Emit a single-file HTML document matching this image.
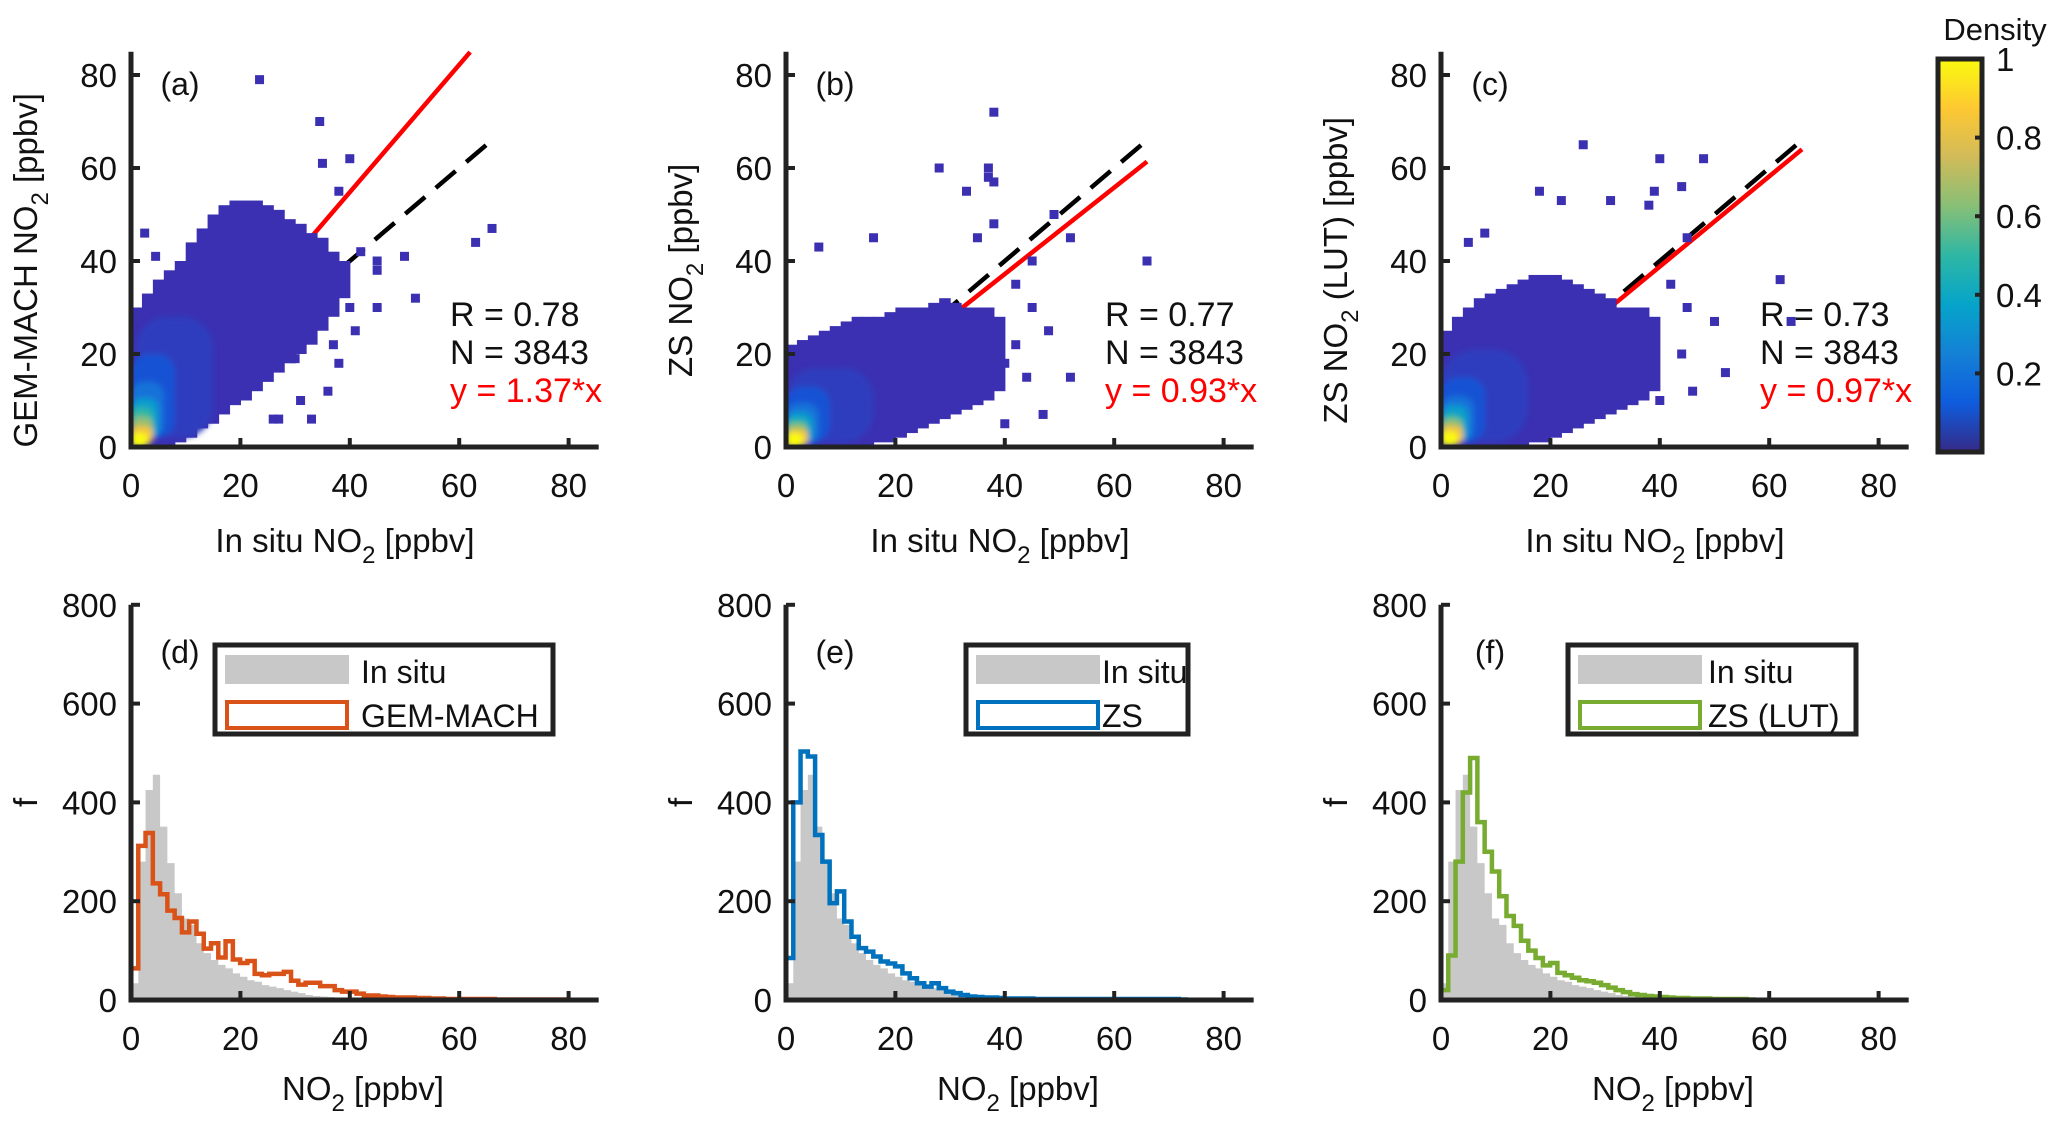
<!DOCTYPE html>
<html><head><meta charset="utf-8">
<style>
html,body{margin:0;padding:0;background:#fff;}
svg{display:block;font-family:"Liberation Sans",Arial,sans-serif;}
</style></head>
<body>
<svg id="fig" width="2067" height="1129" viewBox="0 0 2067 1129" xmlns="http://www.w3.org/2000/svg">
<defs>
<linearGradient id="parula" x1="0" y1="1" x2="0" y2="0">
<stop offset="0" stop-color="#352a87"/><stop offset="0.125" stop-color="#0f5cdd"/>
<stop offset="0.25" stop-color="#1481d6"/><stop offset="0.375" stop-color="#06a4ca"/>
<stop offset="0.5" stop-color="#2eb7a4"/><stop offset="0.625" stop-color="#87bf77"/>
<stop offset="0.75" stop-color="#d1bb59"/><stop offset="0.875" stop-color="#fec832"/>
<stop offset="1" stop-color="#f9fb0e"/></linearGradient>
<filter id="soft" x="-20%" y="-20%" width="140%" height="140%"><feGaussianBlur stdDeviation="3"/></filter>
</defs>
</svg>
<script>
// ---------- data ----------
const scatterTicks = [0,20,40,60,80];
const histYTicks = [0,200,400,600,800];
const panelLetters = ['(a)','(b)','(c)'];
const histLetters = ['(d)','(e)','(f)'];
const rVals = ['0.78','0.77','0.73'];
const nVals = ['3843','3843','3843'];
const slopes = [1.37,0.93,0.97];
const fitEnds = [62,66,66];
const oneToOneEnd = [66,66,66];
// cloud columns: x bin start (width 2), y low, y high
const cloudX = [0,2,4,6,8,10,12,14,16,18,20,22,24,26,28,30,32,34,36,38];
const cloudLoA = [0,0,0,0,1,2,4,5,7,9,10,12,14,16,18,20,22,25,28,32];
const cloudHiA = [30,33,36,38,40,44,47,50,52,53,53,53,52,51,49,48,46,45,42,40];
const cloudLoB = [0,0,0,0,0,0,0,0,1,1,2,3,4,5,6,7,8,9,10,12];
const cloudHiB = [22,23,24,25,26,27,28,28,28,29,30,30,30,31,32,31,30,30,30,28];
const cloudLoC = [0,0,0,0,0,0,0,0,1,1,2,3,4,5,6,7,8,9,10,12];
const cloudHiC = [25,28,30,32,33,34,35,36,37,37,37,36,35,34,33,32,30,30,30,28];
// density core cells: centre x, centre y, width, height, density
const coreXA = [8,4,3,2.5,2,2,2,1.5];
const coreYA = [15,11,8,6,5,4,2.5,1.5];
const coreWA = [14,8,6,5,4,4,4,3];
const coreHA = [26,18,12,9,7,5,4,3];
const coreDA = [0.04,0.1,0.2,0.35,0.5,0.65,0.85,1];
const coreXB = [8,4,3,2.5,2,2,2,1.5];
const coreYB = [9,7,5,4,3.5,3,2,1.5];
const coreWB = [16,8,6,5,4,4,4,3];
const coreHB = [16,12,9,7,5,4,3.5,3];
const coreDB = [0.04,0.1,0.2,0.35,0.5,0.65,0.85,1];
const coreXC = [8,4,3,2.5,2,2,2,1.5];
const coreYC = [11,8,6,5,4,3.5,2.5,1.8];
const coreWC = [16,8,6,5,4,4,4,3];
const coreHC = [20,14,10,8,6,5,4,3];
const coreDC = [0.04,0.1,0.2,0.35,0.5,0.65,0.85,1];
// outliers
const outXA = [23.5,34.5,35,40,2.5,4.5,63,66,50,52,45,38,41,45,45,26,27,33,31,30,38,37,40,36,42];
const outYA = [79,70,61,62,46,41,44,47,41,32,30,18,25,40,38,6,6,6,10,19,55,22,30,12,42];
const outXB = [38,28,37,37,33,38,49,52,45,66,38,35,48,42,44,52,47,40,16,6,42,40,45];
const outYB = [72,60,60,58,55,57,50,45,40,40,48,45,25,22,15,15,7,5,45,43,35,18,30];
const outXC = [26,40,39,48,44,31,38,45,18,22,62,64,50,52,46,40,5,8,42,45,44];
const outYC = [65,62,55,62,56,53,52,45,55,53,36,27,27,16,12,10,44,46,35,30,20];
// histograms (bin width 1.33 ppbv)
const binW = 1.33;
const inSitu = [34,280,425,456,351,277,216,165,152,115,95,81,71,64,54,47,40,37,30,27,24,20,17,14,10,8,7,6,5,4,3,3,2,2,2,1,1];
const gemMach = [64,312,338,236,214,181,166,137,159,134,104,115,86,119,82,75,79,53,50,53,53,57,39,31,35,35,28,28,20,17,17,13,9,9,7,6,5,5,5,4,4,3,3,2,2,2,2,2,2,2,1,1,1,1,1,1,1,1,1,1];
const zs = [85,400,503,493,334,280,196,220,159,128,105,98,88,78,74,68,54,44,34,27,34,24,17,14,10,7,6,5,5,4,3,3,3,3,2,2,2,2,2,2,2,2,2,2,2,2,2,2,2,2,2,2,2,2,1];
const zsLut = [20,90,280,420,490,360,300,260,210,170,150,120,100,85,70,75,55,50,45,40,38,35,30,25,20,16,12,10,8,7,6,5,4,4,3,3,3,2,2,2,2,2,1];
const cbTicks = [0.2,0.4,0.6,0.8,1];
const cbLabels = ['0.2','0.4','0.6','0.8','1'];

// ---------- layout ----------
const NS='http://www.w3.org/2000/svg';
const svg=document.getElementById('fig');
const X0=[131,786,1441], XS=5.47;
const TY0=447, TYS=4.65;
const BY0=1000, BYS=0.494;
const sx=(p,v)=>X0[p]+v*XS;
const sy=v=>TY0-v*TYS;
const by=v=>BY0-v*BYS;
const FT=33;
function mk(tag,attrs,parent){const e=document.createElementNS(NS,tag);for(const k in attrs)e.setAttribute(k,attrs[k]);(parent||svg).appendChild(e);return e;}
function txt(s,x,y,size,anchor,fill,parent){const t=mk('text',{x:x,y:y,'font-size':size,'text-anchor':anchor||'middle',fill:fill||'#111'},parent);t.textContent=s;return t;}
const stops=[[0,'#3b2fae'],[0.125,'#0f5cdd'],[0.25,'#1481d6'],[0.375,'#06a4ca'],[0.5,'#2eb7a4'],[0.625,'#87bf77'],[0.75,'#d1bb59'],[0.875,'#fec832'],[1,'#f9fb0e']];
function parula(d){for(let i=1;i<stops.length;i++){if(d<=stops[i][0]){const a=stops[i-1],b=stops[i];const t=(d-a[0])/(b[0]-a[0]);const ca=a[1],cb=b[1];let o='#';for(let k=1;k<7;k+=2){const va=parseInt(ca.substr(k,2),16),vb=parseInt(cb.substr(k,2),16);o+=Math.round(va+(vb-va)*t).toString(16).padStart(2,'0');}return o;}}return stops[stops.length-1][1];}

const clouds=[[cloudLoA,cloudHiA],[cloudLoB,cloudHiB],[cloudLoC,cloudHiC]];
const cores=[[coreXA,coreYA,coreWA,coreHA,coreDA],[coreXB,coreYB,coreWB,coreHB,coreDB],[coreXC,coreYC,coreWC,coreHC,coreDC]];
const outs=[[outXA,outYA],[outXB,outYB],[outXC,outYC]];
const yLabels=[['GEM-MACH NO','2',' [ppbv]'],['ZS NO','2',' [ppbv]'],['ZS NO','2',' (LUT) [ppbv]']];
const defs=svg.querySelector('defs');

for(let p=0;p<3;p++){
  const cp=mk('clipPath',{id:'clip'+p},defs);
  mk('rect',{x:sx(p,0),y:sy(85),width:85.5*XS,height:85*TYS},cp);
  const g=mk('g',{});
  
  
  // lines (drawn beneath scatter)
  const l1=mk('line',{x1:sx(p,0),y1:sy(0),x2:sx(p,oneToOneEnd[p]),y2:sy(oneToOneEnd[p]),stroke:'#000','stroke-width':4.5,'stroke-dasharray':'26 14'},g);
  
  
  const fe=fitEnds[p];
  const l2=mk('line',{x1:sx(p,0),y1:sy(0),x2:sx(p,fe),y2:sy(fe*slopes[p]),stroke:'#ff0000','stroke-width':4.5},g);
  
  
  // cloud
  const [lo,hi]=clouds[p];
  for(let i=0;i<cloudX.length;i++){
    const r=mk('rect',{x:sx(p,cloudX[i]),y:sy(hi[i]),width:2*XS+0.6,height:(hi[i]-lo[i])*TYS,fill:'#3b30b2'},g);
    
    
  }
  // core cells
  const cw0=mk('g',{'clip-path':'url(#clip'+p+')'},g);
  const cg=mk('g',{filter:'url(#soft)'},cw0);
  
  
  const [cx,cy,cw,ch,cd]=cores[p];
  for(let i=0;i<cx.length;i++){
    const w=cw[i]*XS,h=ch[i]*TYS;
    const r=mk('rect',{x:sx(p,cx[i]-cw[i]/2),y:sy(cy[i]+ch[i]/2),width:w,height:h,fill:parula(cd[i]),rx:Math.min(w,h)*0.4},cg);
    
    
  }
  // outliers
  const [ox,oy]=outs[p];
  for(let i=0;i<ox.length;i++){
    const r=mk('rect',{x:sx(p,ox[i])-4.5,y:sy(oy[i])-4.5,width:9,height:9,fill:'#3b30b2'},g);
    
    
  }
  // axes
  const ax=mk('path',{d:`M${sx(p,0)},${sy(85)} V${sy(0)} H${sx(p,85.5)}`,fill:'none',stroke:'#222','stroke-width':5},g);
  
  
  for(const t of scatterTicks){
    mk('line',{x1:sx(p,t),y1:sy(0),x2:sx(p,t),y2:sy(0)-9,stroke:'#222','stroke-width':4},g);
    mk('line',{x1:sx(p,0),y1:sy(t),x2:sx(p,0)+9,y2:sy(t),stroke:'#222','stroke-width':4},g);
    const xl=txt(String(t),sx(p,t),sy(0)+50,FT,'middle','#111',g);
    
    
    const yl=txt(String(t),sx(p,0)-14,sy(t)+12,FT,'end','#111',g);
    
    
  }
  const pl=txt(panelLetters[p],sx(p,0)+49,sy(80)+20,32,'middle','#111',g);
  
  
  const rx=X0[p]+319;
  const t1=txt('R = '+rVals[p],rx,326,34,'start','#111',g);
  
  
  const t2=txt('N = '+nVals[p],rx,364,34,'start','#111',g);
  
  
  const t3=txt('y = '+slopes[p].toFixed(2)+'*x',rx,402,34,'start','#ff0000',g);
  
  
  // x label
  const xt=mk('text',{x:X0[p]+214,y:552,'font-size':33,'text-anchor':'middle',fill:'#111'},g);
  
  
  xt.innerHTML='In situ NO<tspan font-size="24" dy="11">2</tspan><tspan dy="-11"> [ppbv]</tspan>';
  const yt=mk('text',{x:0,y:0,'font-size':33,'text-anchor':'middle',fill:'#111',transform:`translate(${X0[p]-94},${sy(38)}) rotate(-90)`},g);
  
  
  yt.innerHTML=yLabels[p][0]+'<tspan font-size="24" dy="11">'+yLabels[p][1]+'</tspan><tspan dy="-11">'+yLabels[p][2]+'</tspan>';
}

// histograms
const models=[gemMach,zs,zsLut];
const mColors=['#d95319','#0072bd','#77ac30'];
const mNames=['GEM-MACH','ZS','ZS (LUT)'];
const legOff=[84,180,127];
const legW=[338,222,288];
const legTxt=[146,136,140];
for(let p=0;p<3;p++){
  const g=mk('g',{});
  
  
  let d='M'+sx(p,0)+','+by(0);
  inSitu.forEach((v,i)=>{d+=` V${by(v)} H${sx(p,(i+1)*binW)}`;});
  d+=` V${by(0)} Z`;
  const gp=mk('path',{d:d,fill:'#c8c8c8'},g);
  
  
  const m=models[p];
  let d2='M'+sx(p,0)+','+by(0);
  m.forEach((v,i)=>{d2+=` V${by(v)} H${sx(p,(i+1)*binW)}`;});
  d2+=` V${by(0)}`;
  const mp=mk('path',{d:d2,fill:'none',stroke:mColors[p],'stroke-width':4.5},g);
  
  
  const ax=mk('path',{d:`M${sx(p,0)},${by(800)} V${by(0)} H${sx(p,85.5)}`,fill:'none',stroke:'#222','stroke-width':5},g);
  
  
  for(const t of scatterTicks){
    mk('line',{x1:sx(p,t),y1:by(0),x2:sx(p,t),y2:by(0)-9,stroke:'#222','stroke-width':4},g);
    const xl=txt(String(t),sx(p,t),by(0)+50,FT,'middle','#111',g);
    
    
  }
  for(const t of histYTicks){
    mk('line',{x1:sx(p,0),y1:by(t),x2:sx(p,0)+9,y2:by(t),stroke:'#222','stroke-width':4},g);
    const yl=txt(String(t),sx(p,0)-14,by(t)+12,FT,'end','#111',g);
    
    
  }
  const pl=txt(histLetters[p],sx(p,0)+49,663,32,'middle','#111',g);
  
  
  const lx=X0[p]+legOff[p];
  const lg=mk('g',{},g);
  
  
  mk('rect',{x:lx,y:645,width:legW[p],height:89,fill:'#fff',stroke:'#222','stroke-width':5},lg);
  mk('rect',{x:lx+10,y:655,width:124,height:29,fill:'#c8c8c8'},lg);
  mk('rect',{x:lx+12,y:702,width:120,height:26,fill:'none',stroke:mColors[p],'stroke-width':4},lg);
  const e1=txt('In situ',lx+legTxt[p],683,32,'start','#111',lg);
  
  
  const e2=txt(mNames[p],lx+legTxt[p],727,32,'start','#111',lg);
  
  
  const xt=mk('text',{x:X0[p]+232,y:1100,'font-size':33,'text-anchor':'middle',fill:'#111'},g);
  
  
  xt.innerHTML='NO<tspan font-size="24" dy="11">2</tspan><tspan dy="-11"> [ppbv]</tspan>';
  const yt=txt('f',0,0,33,'middle','#111',g);
  yt.setAttribute('transform',`translate(${X0[p]-94},${by(400)}) rotate(-90)`);
  
  
}

// colorbar
const cb=mk('g',{});


const CBT=59, CBB=452;
const cby=v=>CBB-v*(CBB-CBT);
mk('rect',{x:1938,y:CBT,width:44,height:CBB-CBT,fill:'url(#parula)',stroke:'#222','stroke-width':5},cb);
cbTicks.forEach((t,i)=>{
  if(t<1) mk('line',{x1:1982,y1:cby(t),x2:1975,y2:cby(t),stroke:'#222','stroke-width':4},cb);
  const l=txt(cbLabels[i],1996,cby(t)+12,33,'start','#111',cb);
  
  
});
const ct=txt('Density',1995,40,31,'middle','#111',cb);


</script>
</body></html>
